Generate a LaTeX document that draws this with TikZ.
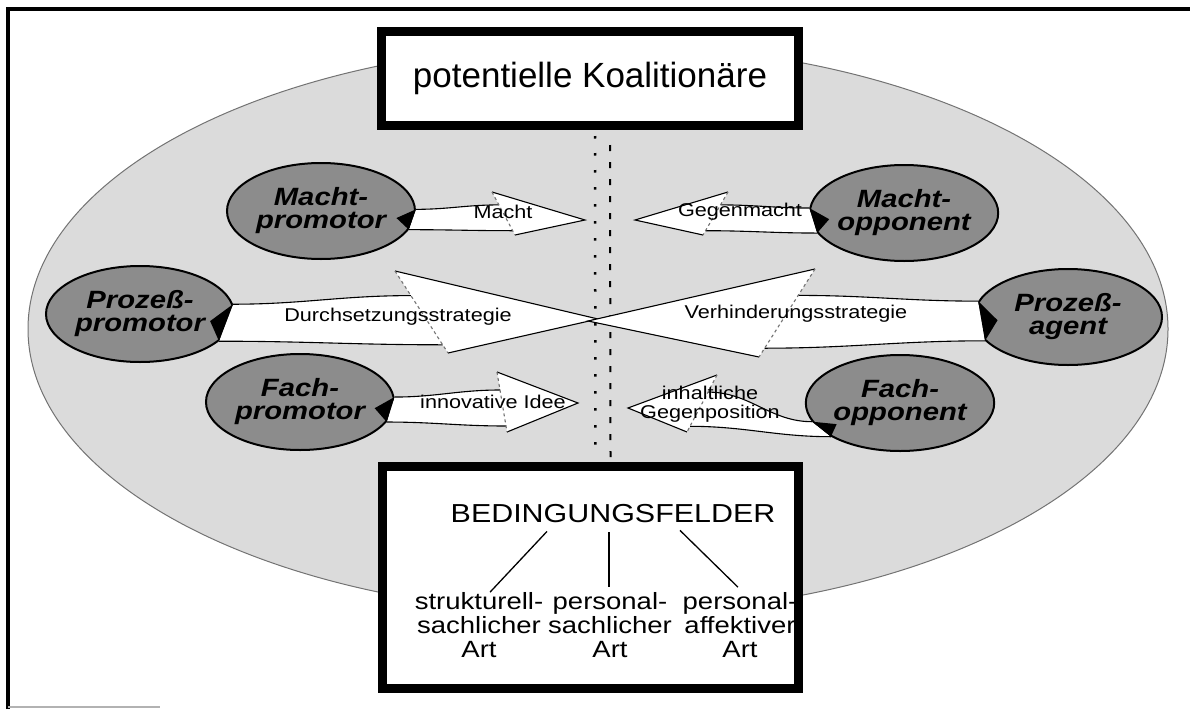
\documentclass[tikz,border=0pt]{standalone}
\usepackage{fontspec}
\setmainfont{Liberation Sans}
\newfontfamily\breitfont[FakeStretch=1.17]{Liberation Sans}
\usetikzlibrary{shapes.geometric,calc,positioning}

% Doppelpfeil: Knoten, Winkel oben/unten, Spitze, Widerhaken oben/unten, out, in
\newcommand{\pfeil}[8]{%
  \coordinate (#1-bo) at ($(#4)+(#5)$);
  \coordinate (#1-bu) at ($(#4)+(#6)$);
  \coordinate (#1-so) at ($(#1-bo)!0.3!(#1-bu)$);
  \coordinate (#1-su) at ($(#1-bo)!0.9!(#1-bu)$);
  \coordinate (#1-m) at ($(#1.#2)!0.5!(#1.#3)$);
  \coordinate (#1-k) at ($(#1-m)!16pt!(#1.center)$);
  \fill[white] (#1.#2) to[out=#7,in=#8] (#1-so) -- (#1-bo) -- (#4) -- (#1-bu) -- (#1-su) to[out=#8,in=#7] (#1.#3) -- cycle;
  \draw[rand] (#1.#2) to[out=#7,in=#8] (#1-so);
  \draw[rand] (#1-bo) -- (#4) -- (#1-bu);
  \draw[rand] (#1-su) to[out=#8,in=#7] (#1.#3);
  \draw[rand,dashed,black!55] (#1-bo) -- (#1-bu);
  \fill (#1.#2) -- (#1-k) -- (#1.#3) -- cycle;
}

\begin{document}
\begin{tikzpicture}
  [x=1pt,y=-1pt,
   akteur/.style={ellipse,draw=black,line width=2,fill=black!45,minimum width=188,minimum height=96,inner sep=0,align=center,font=\breitfont\bfseries\itshape\fontsize{25}{23}\selectfont},
   kasten/.style={draw=black,line width=9,fill=white,inner sep=0},
   pfeiltext/.style={inner sep=0,align=center,font=\breitfont\fontsize{18.5}{18.5}\selectfont},
   art/.style={inner sep=0,align=center,font=\breitfont\fontsize{23.5}{24}\selectfont},
   rand/.style={draw=black,line width=1.1}]

  \useasboundingbox (0,0) rectangle (1190,709);
  \draw[line width=4] (8,709) -- (8,9) -- (1190,9);
  \draw[black!30,line width=1.5] (8,707) -- (160,707);

  % Feld der Koalitionaere
  \draw[fill=black!14,draw=black!55,line width=1] (598,329) ellipse [x radius=570pt,y radius=285pt];

  \node[kasten,minimum width=417,minimum height=94,font=\fontsize{35}{40}\selectfont] (koal) at (590,78.5) {potentielle Koalitionäre};
  \node[kasten,minimum width=416,minimum height=222] (felder) at (590.5,577.5) {};

  % Trennlinie
  \draw[line width=2.5,dash pattern=on 2.5pt off 14.5pt] ($(koal.south)+(5,6)$) -- ($(felder.north)+(5,-4)$);
  \draw[line width=2,dash pattern=on 6pt off 11pt,dash phase=8pt] ($(koal.south)+(20,6)$) -- ($(felder.north)+(20,-4)$);

  \foreach \n/\x/\y/\txt in {mp/321/211/{Macht-\\promotor}, mo/904/213/{Macht-\\opponent},
                             pp/140/314/{Prozeß-\\promotor}, pa/1068/317/{Prozeß-\\agent},
                             fp/300/402/{Fach-\\promotor}, fo/900/403/{Fach-\\opponent}}
    \node[akteur] (\n) at (\x,\y) {\txt};

  \coordinate (zmacht) at (585,220);
  \coordinate (zgegen) at (635,220);
  \coordinate (zdurch) at (598,319);
  \coordinate (zverh) at (588,321);
  \coordinate (zidee) at (578,403);
  \coordinate (zpos) at (628,408);

  \pfeil{mp}{1}{-12}{zmacht}{-93,-28}{-70,15}{0}{180}
  \pfeil{mo}{177}{193}{zgegen}{93,-28}{68,15}{180}{0}
  \pfeil{pp}{6}{-19}{zdurch}{-203,-48}{-150,34}{0}{180}
  \pfeil{pa}{170}{196}{zverh}{227,-52}{171,36}{180}{0}
  \pfeil{fp}{3}{-13}{zidee}{-81,-31}{-71,29}{0}{180}
  \pfeil{fo}{192}{206}{zpos}{89,-33}{59,24}{180}{0}

  \node[pfeiltext] (lmacht) at (503,212) {Macht};
  \node[pfeiltext] (lgegen) at (740,212) {Gegenmacht};
  \node[pfeiltext] (ldurch) at (398,317) {Durchsetzungsstrategie};
  \node[pfeiltext] (lverh) at (796,314) {Verhinderungsstrategie};
  \node[pfeiltext] (lidee) at (493,402) {innovative Idee};
  \node[pfeiltext] (lpos) at (710,404) {inhaltliche\\Gegenposition};

  % Bedingungsfelder
  \node[inner sep=0,font=\breitfont\fontsize{26}{26}\selectfont] (bed) at (613,514) {BEDINGUNGSFELDER};
  \node[art] (a1) at (479,625) {strukturell-\\sachlicher\\Art};
  \node[art] (a2) at (610,625) {personal-\\sachlicher\\Art};
  \node[art] (a3) at (740,625) {personal-\\affektiver\\Art};

  \draw[line width=1.3] ($(bed.south)+(-66,8)$) -- ($(a1.north)+(11,0)$);
  \draw[line width=1.3] ($(bed.south)+(-4,9)$) -- ($(a2.north)+(-1,-5)$);
  \draw[line width=1.3] ($(bed.south)+(67,7)$) -- ($(a3.north)+(-2,-5)$);
\end{tikzpicture}
\end{document}
